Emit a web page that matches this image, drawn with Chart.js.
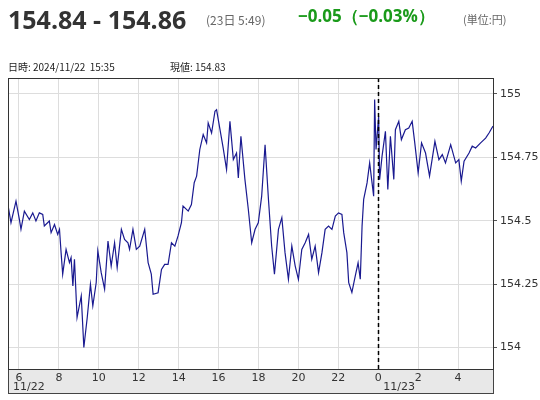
<!DOCTYPE html>
<html>
<head>
<meta charset="utf-8">
<script src="https://cdn.jsdelivr.net/npm/chart.js@4"></script>
<style>
  body { margin: 0; width: 540px; height: 400px; position: relative; font-family: "Noto Sans CJK JP", "Open Sans", sans-serif; background: #fff; overflow: hidden; }
  #wrap { position: absolute; left: 0; top: 0; width: 540px; height: 400px; }
  .t { position: absolute; white-space: nowrap; }
</style>
</head>
<body>
<div id="wrap"><canvas id="chart-fx" width="540" height="400"></canvas></div>
<div class="t" style="left:8px;top:2px;font-size:25px;font-weight:bold;color:#333;font-family:'Open Sans',sans-serif;">154.84 - 154.86</div>
<div class="t" style="left:206px;top:11px;font-size:12px;color:#666;">(23日 5:49)</div>
<div class="t" style="left:298px;top:4px;font-size:17px;font-weight:bold;color:#1a9a1a;font-family:'Open Sans',sans-serif;">−0.05（−0.03%）</div>
<div class="t" style="left:463px;top:11px;font-size:11px;color:#666;">(単位:円)</div>
<div class="t" style="left:8px;top:59px;font-size:10px;color:#222;">日時: 2024/11/22&nbsp; 15:35</div>
<div class="t" style="left:170px;top:59px;font-size:10px;color:#222;">現値: 154.83</div>
<script>
// ==========================================
// USD/JPY 日中チャート
// ==========================================

// 時刻（11/22 0時からの経過時間）
const HOURS = [
  5.46, 5.60, 5.85, 6.02, 6.10, 6.27, 6.52, 6.69, 6.85, 7.02, 7.19, 7.27, 7.52, 7.61, 7.78, 7.94,
  8.03, 8.11, 8.19, 8.36, 8.53, 8.61, 8.70, 8.78, 8.91, 9.12, 9.25, 9.42, 9.58, 9.70, 9.87, 9.95,
  10.12, 10.29, 10.46, 10.62, 10.79, 10.92, 11.13, 11.29, 11.46, 11.54, 11.71, 11.88, 12.05, 12.30,
  12.47, 12.63, 12.72, 12.97, 13.14, 13.30, 13.47, 13.64, 13.81, 13.97, 14.14, 14.22, 14.48, 14.64,
  14.78, 14.90, 15.06, 15.23, 15.40, 15.48, 15.65, 15.82, 15.90, 16.07, 16.23, 16.40, 16.57, 16.74,
  16.90, 16.99, 17.12, 17.32, 17.49, 17.66, 17.83, 17.99, 18.16, 18.33, 18.50, 18.66, 18.80, 19.00,
  19.17, 19.33, 19.50, 19.67, 19.84, 20.00, 20.17, 20.34, 20.51, 20.67, 20.84, 21.01, 21.18, 21.34,
  21.51, 21.68, 21.85, 22.01, 22.18, 22.27, 22.43, 22.52, 22.68, 22.85, 22.99, 23.10, 23.19, 23.27,
  23.44, 23.57, 23.69, 23.77, 23.82, 23.89, 24.02, 24.07, 24.19, 24.36, 24.48, 24.61, 24.78, 24.86,
  25.03, 25.16, 25.36, 25.53, 25.70, 25.83, 26.00, 26.17, 26.37, 26.57, 26.84, 27.04, 27.21, 27.37,
  27.63, 27.88, 28.04, 28.16, 28.30, 28.55, 28.71, 28.88, 29.13, 29.38, 29.55, 29.75
];

// レート
const PRICES = [
  154.557, 154.492, 154.577, 154.505, 154.466, 154.538, 154.505, 154.531, 154.499, 154.531, 154.525, 154.479, 154.499, 154.453, 154.485, 154.446,
  154.466, 154.374, 154.289, 154.387, 154.335, 154.354, 154.243, 154.348, 154.118, 154.203, 154.000, 154.118, 154.249, 154.164, 154.256, 154.381,
  154.295, 154.230, 154.420, 154.321, 154.413, 154.315, 154.466, 154.426, 154.413, 154.387, 154.466, 154.387, 154.400, 154.466,
  154.335, 154.289, 154.210, 154.216, 154.308, 154.328, 154.328, 154.413, 154.400, 154.440, 154.492, 154.558, 154.538, 154.564,
  154.650, 154.676, 154.781, 154.840, 154.807, 154.886, 154.846, 154.932, 154.938, 154.860, 154.787, 154.702, 154.892, 154.741,
  154.767, 154.669, 154.833, 154.663, 154.545, 154.413, 154.466, 154.492, 154.597, 154.800, 154.584, 154.400, 154.289, 154.466,
  154.512, 154.374, 154.269, 154.400, 154.321, 154.269, 154.387, 154.413, 154.446, 154.348, 154.400, 154.295, 154.374, 154.466,
  154.479, 154.466, 154.518, 154.531, 154.525, 154.453, 154.374, 154.256, 154.217, 154.282, 154.334, 154.269, 154.479, 154.584,
  154.649, 154.728, 154.649, 154.597, 154.978, 154.781, 154.912, 154.662, 154.754, 154.853, 154.623, 154.833, 154.663, 154.859,
  154.892, 154.820, 154.859, 154.866, 154.892, 154.807, 154.689, 154.807, 154.767, 154.676, 154.813, 154.741, 154.761, 154.728,
  154.800, 154.728, 154.741, 154.656, 154.735, 154.767, 154.794, 154.787, 154.807, 154.826, 154.846, 154.873
];

const X_TICKS = [6, 8, 10, 12, 14, 16, 18, 20, 22, 24, 26, 28];
const Y_TICKS = [154, 154.25, 154.5, 154.75, 155];
const DATE_LABELS = [{ hour: 6, text: '11/22', dx: -6 }, { hour: 24, text: '11/23', dx: 5 }];
const DAY_BREAK = 24;

const framePlugin = {
  id: 'frame',
  beforeDraw(chart) {
    const { ctx, chartArea: a } = chart;
    ctx.save();
    ctx.fillStyle = '#e8e8e8';
    ctx.fillRect(a.left, a.bottom, a.right - a.left, 24);
    ctx.strokeStyle = '#444';
    ctx.lineWidth = 1;
    ctx.strokeRect(a.left + 0.5, a.bottom + 0.5, a.right - a.left, 24);
    ctx.restore();
  },
  afterDatasetsDraw(chart) {
    const { ctx, chartArea: a, scales } = chart;
    ctx.save();
    // 日付変更線
    const x = Math.round(scales.x.getPixelForValue(DAY_BREAK)) + 0.5;
    ctx.strokeStyle = '#000';
    ctx.lineWidth = 1.5;
    ctx.setLineDash([4, 3]);
    ctx.beginPath();
    ctx.moveTo(x, a.top);
    ctx.lineTo(x, a.bottom);
    ctx.stroke();
    ctx.setLineDash([]);
    // 枠
    ctx.strokeStyle = '#333';
    ctx.lineWidth = 1;
    ctx.strokeRect(a.left + 0.5, a.top + 0.5, a.right - a.left, a.bottom - a.top);
    // 日付ラベル
    ctx.fillStyle = '#333';
    ctx.font = '11px "DejaVu Sans", sans-serif';
    ctx.textBaseline = 'top';
    DATE_LABELS.forEach(d => {
      ctx.fillText(d.text, scales.x.getPixelForValue(d.hour) + d.dx, a.bottom + 13);
    });
    ctx.restore();
  }
};

new Chart(document.getElementById('chart-fx'), {
  type: 'line',
  data: {
    datasets: [{
      data: HOURS.map((h, i) => ({ x: h, y: PRICES[i] })),
      borderColor: '#1a1a90',
      borderWidth: 1.2,
      pointRadius: 0,
      tension: 0
    }]
  },
  options: {
    responsive: false,
    animation: false,
    layout: { padding: { left: 8, top: 78, right: 0, bottom: 0 } },
    plugins: { legend: { display: false }, tooltip: { enabled: false } },
    scales: {
      x: {
        type: 'linear',
        min: 5.45,
        max: 29.75,
        afterBuildTicks: s => { s.ticks = X_TICKS.map(v => ({ value: v })); },
        afterFit: s => { s.height = 31; },
        grid: { color: '#dddddd', drawTicks: false },
        border: { display: false },
        ticks: {
          callback: v => String(v % 24),
          color: '#333',
          font: { size: 11, family: 'DejaVu Sans' },
          padding: 3,
          maxRotation: 0,
          autoSkip: false
        }
      },
      y: {
        position: 'right',
        min: 153.915,
        max: 155.063,
        afterBuildTicks: s => { s.ticks = Y_TICKS.map(v => ({ value: v })); },
        afterFit: s => { s.width = 47; },
        grid: { color: '#dddddd', tickLength: 4, tickColor: '#555' },
        border: { display: false },
        ticks: {
          callback: v => String(v),
          color: '#333',
          font: { size: 11, family: 'DejaVu Sans' },
          padding: 3
        }
      }
    }
  },
  plugins: [framePlugin]
});
</script>
</body>
</html>
